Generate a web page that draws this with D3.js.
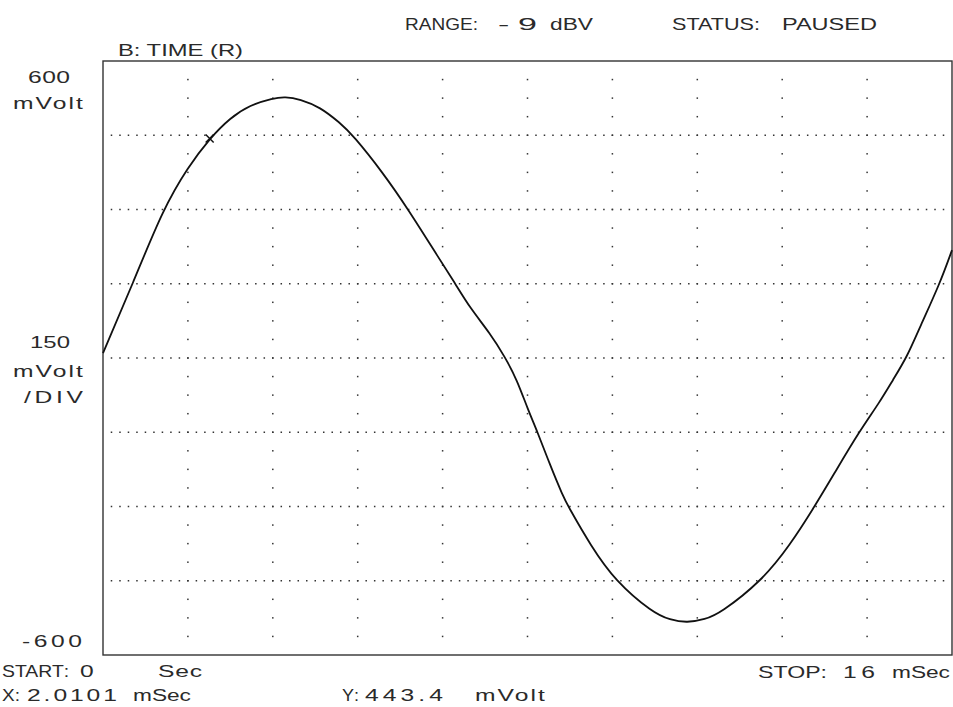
<!DOCTYPE html>
<html lang="en">
<head>
    <meta charset="UTF-8">
    <title>B: TIME (R)</title>
    <script src="https://cdnjs.cloudflare.com/ajax/libs/d3/7.8.5/d3.min.js"></script>
    <style>
        html, body { margin: 0; padding: 0; background: #fff; }
        #chart { width: 953px; height: 707px; }
        .lbl { font-family: "Liberation Sans", Arial, sans-serif; font-size: 17px; fill: #2a2a2a; }
    </style>
</head>
<body>
<div id="chart"></div>
<script>
    // trace: time (mSec) and value (mVolt)
    const timeMs = [0, 0.565, 1.131, 1.602, 2.0101, 2.393, 2.770, 3.204, 3.430, 3.713,
        4.090, 4.467, 4.712, 5.277, 5.748, 6.351, 6.634, 6.917, 7.294, 7.576,
        7.802, 8.010, 8.180, 8.424, 8.669, 8.763, 9.197, 9.649, 10.365, 10.686,
        11.006, 11.345, 11.628, 12.419, 12.947, 13.418, 13.832, 14.262, 14.639, 14.888,
        15.152, 15.397, 15.774, 16.0];
    const voltMv = [10, 151, 301, 386, 443.4, 485, 511, 525, 528, 523,
        507, 475, 450, 374, 301, 198, 151, 101, 50, 2,
        -44, -105, -147, -216, -279, -299, -380, -450, -515, -529,
        -535, -528, -516, -450, -378, -299, -224, -147, -89, -44,
        2, 63, 151, 218];

    // cursor marker
    const markerX = 2.0101;
    const markerY = 443.4;

    // axis settings
    const xStart = 0, xStop = 16;          // mSec
    const yTop = 600, yBottom = -600;      // mVolt
    const xDivs = 10, yDivs = 8;

    const width = 953, height = 707;
    const frame = { left: 103, right: 952, top: 61, bottom: 655 };

    const svg = d3.select("#chart").append("svg")
        .attr("width", width)
        .attr("height", height);

    const x = d3.scaleLinear().domain([xStart, xStop]).range([frame.left, frame.right]);
    const y = d3.scaleLinear().domain([yBottom, yTop]).range([frame.bottom, frame.top]);

    const xStep = (xStop - xStart) / xDivs;
    const yStep = (yTop - yBottom) / yDivs;

    // dotted horizontal grid lines (10 dots per x division)
    const rowVals = d3.range(1, yDivs).map(i => yBottom + i * yStep);
    const rowDots = d3.range(1, xDivs * 10).map(i => xStart + i * xStep / 10);
    // dotted vertical columns (4 dots per y division)
    const colVals = d3.range(1, xDivs).map(i => xStart + i * xStep);
    const colDots = d3.range(1, yDivs * 4).map(i => yBottom + i * yStep / 4);

    const grid = svg.append("g").attr("fill", "#333");
    rowVals.forEach(v => {
        grid.selectAll(null).data(rowDots).enter().append("rect")
            .attr("x", d => x(d) - 0.75)
            .attr("y", y(v) - 0.75)
            .attr("width", 1.5)
            .attr("height", 1.5);
    });
    colVals.forEach(t => {
        grid.selectAll(null).data(colDots).enter().append("rect")
            .attr("x", x(t) - 0.75)
            .attr("y", d => y(d) - 0.75)
            .attr("width", 1.5)
            .attr("height", 1.5);
    });

    // frame
    svg.append("rect")
        .attr("x", frame.left)
        .attr("y", frame.top)
        .attr("width", frame.right - frame.left)
        .attr("height", frame.bottom - frame.top)
        .attr("fill", "none")
        .attr("stroke", "#333")
        .attr("stroke-width", 1.4);

    // trace
    const line = d3.line()
        .x(d => x(d[0]))
        .y(d => y(d[1]))
        .curve(d3.curveBasis);

    svg.append("path")
        .datum(d3.zip(timeMs, voltMv))
        .attr("d", line)
        .attr("fill", "none")
        .attr("stroke", "#111")
        .attr("stroke-width", 1.8);

    // marker cross
    const mx = x(markerX), my = y(markerY);
    svg.append("path")
        .attr("d", `M${mx - 4},${my - 4}L${mx + 4},${my + 4}M${mx - 4},${my + 4}L${mx + 4},${my - 4}`)
        .attr("stroke", "#111")
        .attr("stroke-width", 1.5);

    // labels: [text, x, baseline, visible width]
    const labels = [
        ["RANGE:", 405, 30, 73],
        ["-9", 498, 30, 39],
        ["dBV", 550, 30, 43],
        ["STATUS:", 672, 30, 88],
        ["PAUSED", 782, 30, 95],
        ["B: TIME (R)", 118, 56, 125],
        ["600", 28, 83, 42],
        ["mVolt", 13, 109, 70],
        ["150", 30, 348, 40],
        ["mVolt", 13, 377, 70],
        ["/DIV", 24, 403, 59],
        ["-600", 22, 647, 60],
        ["START:", 2, 677, 65],
        ["0", 80, 677, 15],
        ["Sec", 158, 677, 44],
        ["STOP:", 758, 678, 69],
        ["16", 843, 678, 32],
        ["mSec", 892, 678, 58],
        ["X:", 2, 701, 18],
        ["2.0101", 27, 701, 90],
        ["mSec", 133, 701, 58],
        ["Y:", 342, 701, 16],
        ["443.4", 365, 701, 78],
        ["mVolt", 475, 701, 70]
    ];

    // the screen font is wide, so glyphs are stretched a bit and spaced out
    const stretch = 1.45;
    const wideStretch = { "-9": 2.0 };   // long dash on the range readout

    svg.append("g").selectAll("text")
        .data(labels)
        .enter()
        .append("text")
        .attr("class", "lbl")
        .text(d => d[0])
        .each(function(d) {
            const el = d3.select(this);
            const n = d[0].length;
            const natural = this.getComputedTextLength();
            const s = Math.min(wideStretch[d[0]] || stretch, d[3] / natural);
            el.attr("transform", `translate(${d[1]},${d[2]}) scale(${s},1)`);
            if (n < 2) return;
            const gap = Math.max(0, (d[3] / s - natural) / (n - 1));
            el.text(null);
            el.append("tspan").attr("letter-spacing", gap).text(d[0].slice(0, -1));
            el.append("tspan").text(d[0].slice(-1));
        });
</script>
</body>
</html>
